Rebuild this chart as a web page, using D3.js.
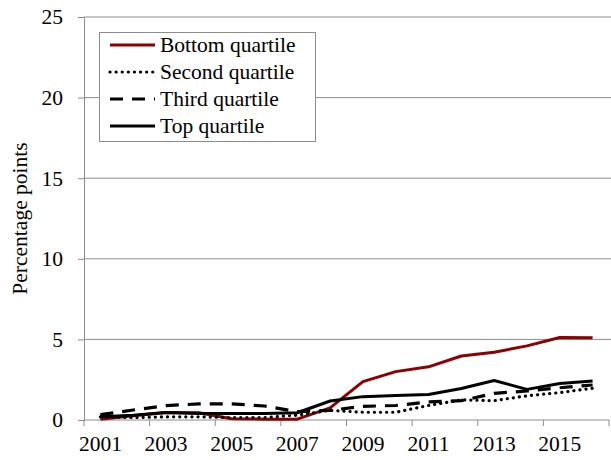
<!DOCTYPE html>
<html>
<head>
<meta charset="utf-8">
<script src="https://cdn.jsdelivr.net/npm/d3@7"></script>
</head>
<body style="margin:0">
<div id="chart"></div>
<script>
// Data
// -------------------
let years = ["2001","2002","2003","2004","2005","2006","2007","2008",
             "2009","2010","2011","2012","2013","2014","2015","2016"];
let tick_years = ["2001","2003","2005","2007","2009","2011","2013","2015"];
let y_ticks = [0, 5, 10, 15, 20, 25];

let bottom_q = [0.05, 0.27, 0.47, 0.45, 0.08, 0.05, 0.05, 0.75, 2.38, 3.0, 3.3, 3.97, 4.2, 4.6, 5.12, 5.1];
let second_q = [0.2, 0.15, 0.2, 0.2, 0.15, 0.15, 0.3, 0.6, 0.48, 0.48, 0.9, 1.25, 1.2, 1.5, 1.7, 1.97];
let third_q  = [0.33, 0.62, 0.89, 1.0, 1.0, 0.87, 0.52, 0.6, 0.85, 0.9, 1.12, 1.2, 1.65, 1.8, 2.0, 2.17];
let top_q    = [0.2, 0.3, 0.47, 0.4, 0.4, 0.4, 0.45, 1.18, 1.45, 1.52, 1.58, 1.95, 2.45, 1.9, 2.27, 2.42];

let series_names = ["Bottom quartile", "Second quartile", "Third quartile", "Top quartile"];
let series_vals = [bottom_q, second_q, third_q, top_q];
// -------------------

let chart_w = 611, chart_h = 460;
let x0 = 84, x1 = 609, y0 = 420, y1 = 17;
let font = "'Liberation Serif', 'Times New Roman', serif";
let font_size = 21.5;
let axis_col = "#8c8c8c";

let styles = [
  {stroke: "#8b0000", dash: null, width: 3, cap: "butt"},
  {stroke: "#000", dash: "0.1 6", width: 3.2, cap: "round"},
  {stroke: "#000", dash: "13 9", width: 3.2, cap: "butt"},
  {stroke: "#000", dash: null, width: 3, cap: "butt"}
];

let svg = d3.select("#chart")
  .append("svg")
    .attr("width", chart_w)
    .attr("height", chart_h)
    .style("display", "block");

let x = d3.scaleBand().domain(years).range([x0, x1]).padding(0);
let y = d3.scaleLinear().domain([0, 25]).range([y0, y1]);

// Gridlines
svg.append("g")
  .selectAll("line")
  .data(y_ticks.filter(d => d > 0))
  .join("line")
    .attr("x1", x0).attr("x2", chart_w)
    .attr("y1", d => y(d)).attr("y2", d => y(d))
    .attr("stroke", axis_col)
    .attr("stroke-width", 1);

// Y axis
let y_axis = svg.append("g")
  .attr("transform", `translate(${x0},0)`)
  .call(d3.axisLeft(y).tickValues(y_ticks).tickSize(6).tickPadding(15));
y_axis.attr("font-family", font).attr("font-size", font_size);
y_axis.select(".domain").attr("stroke", axis_col);
y_axis.selectAll(".tick line").attr("stroke", axis_col);
y_axis.selectAll("text")
  .style("font-family", font)
  .attr("font-size", font_size)
  .attr("fill", "#000");

// X axis: tick marks every 2 categories
let x_axis = svg.append("g")
  .attr("transform", `translate(0,${y0})`);
x_axis.append("line")
  .attr("x1", x0).attr("x2", x1)
  .attr("stroke", axis_col);
x_axis.selectAll(".xt")
  .data(years.filter((d, i) => i % 2 === 0).concat(["end"]))
  .join("line")
    .attr("class", "xt")
    .attr("x1", d => d === "end" ? x1 : x(d))
    .attr("x2", d => d === "end" ? x1 : x(d))
    .attr("y1", 0).attr("y2", 6)
    .attr("stroke", axis_col);
x_axis.selectAll("text")
  .data(tick_years)
  .join("text")
    .attr("x", d => x(d) + x.bandwidth() / 2)
    .attr("y", 31)
    .attr("text-anchor", "middle")
    .style("font-family", font)
    .attr("font-size", font_size)
    .text(d => d);

// Y label
svg.append("text")
  .attr("transform", `translate(27,${(y0 + y1) / 2}) rotate(-90)`)
  .attr("text-anchor", "middle")
  .style("font-family", font)
  .attr("font-size", font_size)
  .text("Percentage points");

// Lines
let line = d3.line()
  .x((d, i) => x(years[i]) + x.bandwidth() / 2)
  .y(d => y(d));

svg.append("g")
  .selectAll("path")
  .data(series_vals)
  .join("path")
    .attr("d", d => line(d))
    .attr("fill", "none")
    .attr("stroke", (d, i) => styles[i].stroke)
    .attr("stroke-width", (d, i) => styles[i].width)
    .attr("stroke-dasharray", (d, i) => styles[i].dash)
    .attr("stroke-linecap", (d, i) => styles[i].cap)
    .attr("stroke-linejoin", "round");

// Legend
let legend = svg.append("g");
legend.append("rect")
  .attr("x", 99.5).attr("y", 32.5)
  .attr("width", 216).attr("height", 109)
  .attr("fill", "#fff")
  .attr("stroke", axis_col);

let items = legend.selectAll(".item")
  .data(series_names)
  .join("g")
    .attr("class", "item")
    .attr("transform", (d, i) => `translate(0,${45 + i * 27})`);
items.append("line")
  .attr("x1", 110).attr("x2", 155)
  .attr("stroke", (d, i) => styles[i].stroke)
  .attr("stroke-width", (d, i) => styles[i].width)
  .attr("stroke-dasharray", (d, i) => styles[i].dash)
  .attr("stroke-linecap", (d, i) => styles[i].cap);
items.append("text")
  .attr("x", 160)
  .attr("y", 7)
  .style("font-family", font)
  .attr("font-size", font_size)
  .text(d => d);
</script>
</body>
</html>
